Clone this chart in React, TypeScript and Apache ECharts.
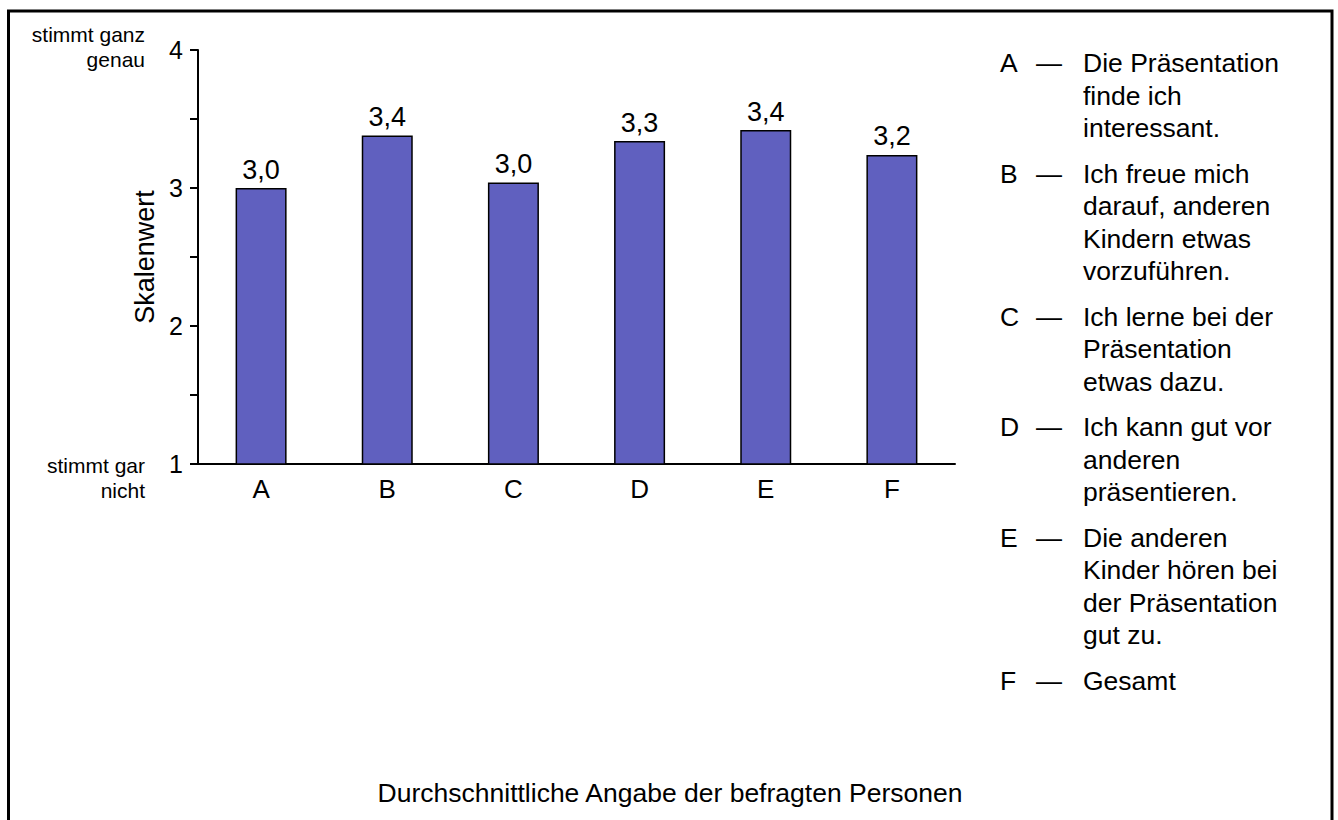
import React, { useEffect, useRef } from "react";
import * as echarts from "echarts";

const categories = ["A", "B", "C", "D", "E", "F"];
const values = [3.0, 3.38, 3.04, 3.34, 3.42, 3.24];
const yMin = 1;
const yMax = 4;
const yStep = 0.5;
const legendLines = [
  ["Die Präsentation", "finde ich", "interessant."],
  ["Ich freue mich", "darauf, anderen", "Kindern etwas", "vorzuführen."],
  ["Ich lerne bei der", "Präsentation", "etwas dazu."],
  ["Ich kann gut vor", "anderen", "präsentieren."],
  ["Die anderen", "Kinder hören bei", "der Präsentation", "gut zu."],
  ["Gesamt"],
];
const topScaleLabel = ["stimmt ganz", "genau"];
const bottomScaleLabel = ["stimmt gar", "nicht"];
const yAxisName = "Skalenwert";
const footerTitle = "Durchschnittliche Angabe der befragten Personen";

const FONT = "'Liberation Sans', Arial, Helvetica, sans-serif";

export default function App() {
  const ref = useRef<HTMLDivElement>(null);
  useEffect(() => {
    if (!ref.current) return;
    const chart = echarts.init(ref.current, null, { renderer: "svg" });

    const LH = 32.5;
    const GAP = 13;
    const legendGraphics: any[] = [];
    let cy = 63;
    legendLines.forEach((lines, i) => {
      legendGraphics.push({
        type: "text",
        x: 1000,
        y: cy,
        style: { text: categories[i], font: `26.5px ${FONT}`, fill: "#000", verticalAlign: "middle", align: "left" },
      });
      legendGraphics.push({
        type: "text",
        x: 1036,
        y: cy,
        style: { text: "—", font: `26px ${FONT}`, fill: "#000", verticalAlign: "middle", align: "left" },
      });
      legendGraphics.push({
        type: "text",
        x: 1083,
        y: cy - LH / 2,
        style: {
          text: lines.join("\n"),
          font: `26.5px ${FONT}`,
          lineHeight: LH,
          fill: "#000",
          verticalAlign: "top",
          align: "left",
        },
      });
      cy += lines.length * LH + GAP;
    });

    chart.setOption({
      animation: false,
      backgroundColor: "#fff",
      grid: { left: 198, right: 383, top: 50, bottom: 356, containLabel: false },
      xAxis: {
        type: "category",
        data: categories,
        axisLine: { show: true, lineStyle: { color: "#000", width: 2 } },
        axisTick: { show: false },
        axisLabel: { color: "#000", fontSize: 26, fontFamily: FONT, margin: 12 },
      },
      yAxis: {
        type: "value",
        min: yMin,
        max: yMax,
        interval: yStep,
        name: yAxisName,
        nameLocation: "middle",
        nameGap: 40,
        nameTextStyle: { color: "#000", fontSize: 27, fontFamily: FONT },
        axisLine: { show: true, lineStyle: { color: "#000", width: 2 } },
        axisTick: { show: true, length: 8, lineStyle: { color: "#000", width: 2 } },
        splitLine: { show: false },
        axisLabel: {
          color: "#000",
          fontSize: 25,
          fontFamily: FONT,
          margin: 15,
          formatter: (v: number) => (Number.isInteger(v) ? String(v) : ""),
        },
      },
      series: [
        {
          type: "bar",
          data: values,
          barWidth: 51,
          itemStyle: { color: "#6060BF", borderColor: "#000", borderWidth: 1.5 },
          label: {
            show: true,
            position: "top",
            distance: 5,
            color: "#000",
            fontSize: 27,
            fontFamily: FONT,
            formatter: (p: any) => p.value.toFixed(1).replace(".", ","),
          },
        },
      ],
      graphic: [
        {
          type: "rect",
          shape: { x: 8.5, y: 11, width: 1323.5, height: 840 },
          style: { fill: "none", stroke: "#000", lineWidth: 3 },
          silent: true,
        },
        {
          type: "text",
          x: 145,
          y: 22,
          style: { text: topScaleLabel.join("\n"), font: `21px ${FONT}`, lineHeight: 25, fill: "#000", align: "right", verticalAlign: "top" },
        },
        {
          type: "text",
          x: 145,
          y: 453,
          style: { text: bottomScaleLabel.join("\n"), font: `21px ${FONT}`, lineHeight: 25, fill: "#000", align: "right", verticalAlign: "top" },
        },
        {
          type: "text",
          x: 670,
          y: 793,
          style: { text: footerTitle, font: `26.5px ${FONT}`, fill: "#000", align: "center", verticalAlign: "middle" },
        },
        ...legendGraphics,
      ],
    });
    return () => chart.dispose();
  }, []);
  return <div ref={ref} style={{ position: "fixed", left: 0, top: 0, width: 1338, height: 820 }} />;
}
